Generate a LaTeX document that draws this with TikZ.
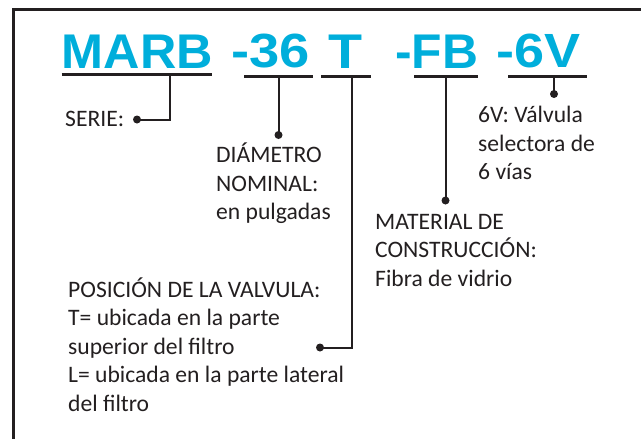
\documentclass[tikz,border=0pt]{standalone}
\usepackage{fontspec}
\setmainfont{Carlito}
\newfontfamily\titlefont{Liberation Sans}
\usepackage{graphicx}
\definecolor{brandcyan}{RGB}{0,174,219}
\definecolor{ink}{RGB}{35,31,32}
\begin{document}
\begin{tikzpicture}[x=1pt,y=-1pt,
  code/.style={inner sep=0pt,anchor=south west,text=brandcyan,font=\titlefont\bfseries},
  bar/.style={line width=2.6pt,draw=ink},
  leader/.style={line width=2pt,draw=ink},
  dotmark/.style={circle,fill=ink,inner sep=0pt,minimum size=8pt},
  desc/.style={inner sep=0pt,anchor=base west,align=left,text=ink,font=\fontsize{23.6}{28.5}\selectfont},
  frame/.style={line width=3pt,draw=ink}]
\useasboundingbox (0,0) rectangle (641,439);
\clip (0,0) rectangle (641,439);
\draw[frame] (13,9) rectangle (660,460);
% title pieces
\node[code] (marb) at (61.5,68.5) {\resizebox{151pt}{33.5pt}{MARB}};
\node[code] (d36) at (231.5,68.5) {\resizebox{78.5pt}{33.5pt}{-36}};
\node[code] (t) at (328,68.5) {\resizebox{34pt}{33.5pt}{T}};
\node[code] (fb) at (395,68.5) {\resizebox{83pt}{33.5pt}{-FB}};
\node[code] (v6) at (496,68.5) {\resizebox{84pt}{33.5pt}{-6V}};
% underline coordinates
\coordinate (marbL) at (61.5,74.5); \coordinate (marbR) at (212,74.5);
\coordinate (d36L) at (244,76.5); \coordinate (d36R) at (313,76.5);
\coordinate (tL) at (321,76.5); \coordinate (tR) at (371,76.5);
\coordinate (fbL) at (414,76.5); \coordinate (fbR) at (478,76.5);
\coordinate (v6L) at (508,76.5); \coordinate (v6R) at (587,76.5);
\draw[bar] (marbL) -- (marbR);
\draw[bar] (d36L) -- (d36R);
\draw[bar] (tL) -- (tR);
\draw[bar] (fbL) -- (fbR);
\draw[bar] (v6L) -- (v6R);
% leader start points
\coordinate (marbS) at (170,74.5);
\coordinate (d36S) at (278.5,76.5);
\coordinate (tS) at (352,76.5);
\coordinate (fbS) at (445.5,76.5);
\coordinate (v6S) at (554,76.5);
% dots
\node[dotmark] (serieDot) at (137,119.5) {};
\node[dotmark] (diamDot) at (278.5,135) {};
\node[dotmark] (posDot) at (320,347.5) {};
\node[dotmark] (matDot) at (445.5,200.5) {};
\node[dotmark] (selDot) at (554,94) {};
% leaders
\draw[leader] (marbS) |- (serieDot.center);
\draw[leader] (d36S) -- (diamDot.center);
\draw[leader] (tS) |- (posDot.center);
\draw[leader] (fbS) -- (matDot.center);
\draw[leader] (v6S) -- (selDot.center);
% descriptions (base anchor = baseline of last line)
\node[desc] (serie) at (65,126.5) {SERIE:};
\node[desc] (diam) at (216,219.5) {DIÁMETRO\\NOMINAL:\\en pulgadas};
\node[desc] (sel) at (478,179.5) {6V: Válvula\\selectora de\\6 vías};
\node[desc] (mat) at (375,286) {MATERIAL DE\\CONSTRUCCIÓN:\\Fibra de vidrio};
\node[desc] (pos) at (68,411) {POSICIÓN DE LA VALVULA:\\T= ubicada en la parte\\superior del filtro\\L= ubicada en la parte lateral\\del filtro};
\end{tikzpicture}
\end{document}
